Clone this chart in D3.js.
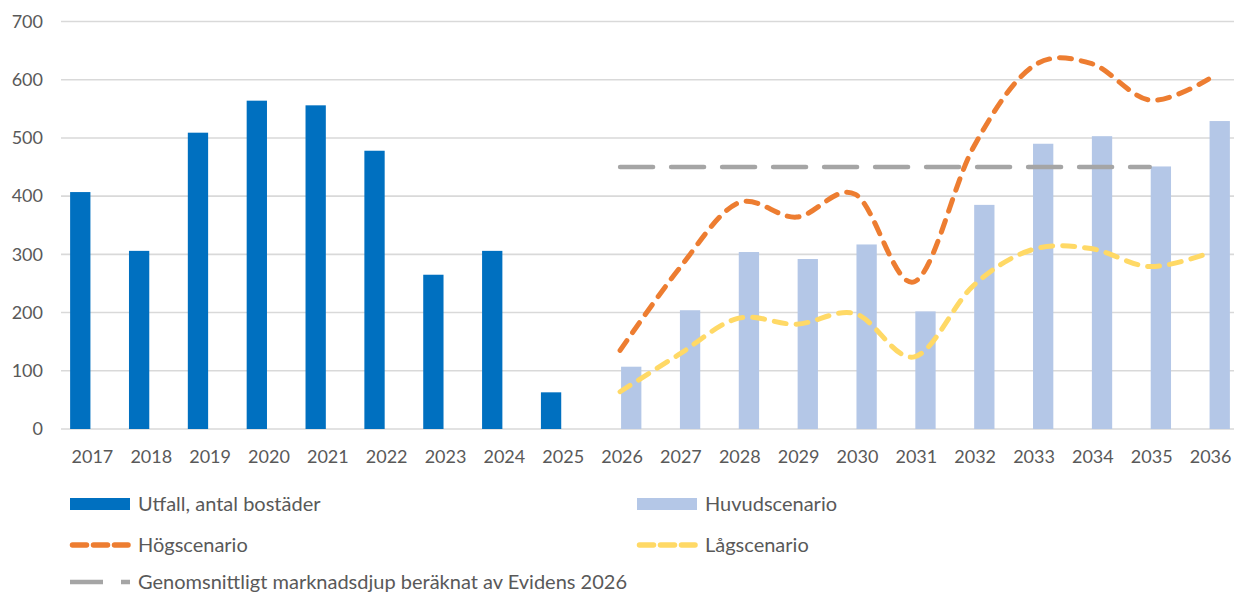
<!DOCTYPE html>
<html>
<head>
<meta charset="utf-8">
<script src="https://cdn.jsdelivr.net/npm/d3@7"></script>
<style>
    html, body { margin: 0; padding: 0; background: #ffffff; }
    #chart { width: 1234px; height: 596px; overflow: hidden; }
</style>
</head>
<body>
<div id="chart"></div>
<script>
// Chart data
const years = ['2017', '2018', '2019', '2020', '2021', '2022', '2023', '2024', '2025', '2026',
               '2027', '2028', '2029', '2030', '2031', '2032', '2033', '2034', '2035', '2036'];
const outcomeYears = ['2017', '2018', '2019', '2020', '2021', '2022', '2023', '2024', '2025'];
const outcomeValues = [407, 306, 509, 564, 556, 478, 265, 306, 63];
const scenarioYears = ['2026', '2027', '2028', '2029', '2030', '2031', '2032', '2033', '2034', '2035', '2036'];
const mainValues = [107, 204, 304, 292, 317, 202, 385, 490, 503, 451, 529];
const highValues = [135, 275, 388, 364, 403, 253, 483, 622, 628, 565, 601];
const lowValues = [64, 128, 190, 180, 198, 124, 246, 308, 310, 279, 302];
const depthYears = ['2026', '2027', '2028', '2029', '2030', '2031', '2032', '2033', '2034', '2035'];
const depthValues = [450, 450, 450, 450, 450, 450, 450, 450, 450, 450];
const yTicks = [0, 100, 200, 300, 400, 500, 600, 700];

const legendItems = [
    { label: 'Utfall, antal bostäder', type: 'bar', color: '#0070C0', col: 0, row: 0 },
    { label: 'Huvudscenario', type: 'bar', color: '#B4C7E7', col: 1, row: 0 },
    { label: 'Högscenario', type: 'dash', color: '#ED7D31', col: 0, row: 1 },
    { label: 'Lågscenario', type: 'dash', color: '#FFD966', col: 1, row: 1 },
    { label: 'Genomsnittligt marknadsdjup beräknat av Evidens 2026', type: 'long', color: '#A5A5A5', col: 0, row: 2 }
];

const width = 1234, height = 596;
const font = 'Lato, "Open Sans", sans-serif';
const textColor = '#595959';

const svg = d3.select('#chart')
    .append('svg')
    .attr('width', width)
    .attr('height', height);

// Scales
const x = d3.scaleBand()
    .domain(years)
    .range([61, 1238]);
const y = d3.scaleLinear()
    .domain([0, 700])
    .range([429, 21.5]);
const barW = x.bandwidth() * 0.345;
const cx = d => x(d) + x.bandwidth() / 2;

// Gridlines
svg.append('g')
    .selectAll('line')
    .data(yTicks)
    .join('line')
    .attr('x1', 61)
    .attr('x2', 1238)
    .attr('y1', d => y(d))
    .attr('y2', d => y(d))
    .attr('stroke', '#D9D9D9')
    .attr('stroke-width', 1.6);

// Y axis labels
svg.append('g')
    .selectAll('text')
    .data(yTicks)
    .join('text')
    .attr('x', 43)
    .attr('y', d => y(d))
    .attr('dy', '0.35em')
    .attr('text-anchor', 'end')
    .attr('font-family', font)
    .attr('font-size', '18px')
    .attr('fill', textColor)
    .text(d => d);

// X axis labels
svg.append('g')
    .selectAll('text')
    .data(years)
    .join('text')
    .attr('x', d => cx(d) + 2)
    .attr('y', 463)
    .attr('text-anchor', 'middle')
    .attr('font-family', font)
    .attr('font-size', '18px')
    .attr('fill', textColor)
    .text(d => d);

// Outcome bars (left in cluster)
svg.append('g')
    .selectAll('rect')
    .data(outcomeYears.map((d, i) => ({ year: d, value: outcomeValues[i] })))
    .join('rect')
    .attr('x', d => cx(d.year) - barW)
    .attr('y', d => y(d.value))
    .attr('width', barW)
    .attr('height', d => y(0) - y(d.value))
    .attr('fill', '#0070C0');

// Main scenario bars (right in cluster)
svg.append('g')
    .selectAll('rect')
    .data(scenarioYears.map((d, i) => ({ year: d, value: mainValues[i] })))
    .join('rect')
    .attr('x', d => cx(d.year) + 1)
    .attr('y', d => y(d.value))
    .attr('width', barW)
    .attr('height', d => y(0) - y(d.value))
    .attr('fill', '#B4C7E7');

// Smoothed lines
const line = d3.line()
    .x(d => cx(d.year))
    .y(d => y(d.value))
    .curve(d3.curveCatmullRom.alpha(0));

svg.append('path')
    .datum(depthYears.map((d, i) => ({ year: d, value: depthValues[i] })))
    .attr('d', d3.line().x(d => cx(d.year)).y(d => y(d.value)))
    .attr('fill', 'none')
    .attr('stroke', '#A5A5A5')
    .attr('stroke-width', 4.5)
    .attr('stroke-dasharray', '33,18')
    .attr('stroke-linecap', 'round');

svg.append('path')
    .datum(scenarioYears.map((d, i) => ({ year: d, value: lowValues[i] })))
    .attr('d', line)
    .attr('fill', 'none')
    .attr('stroke', '#FFD966')
    .attr('stroke-width', 5)
    .attr('stroke-dasharray', '12,10')
    .attr('stroke-linecap', 'round');

svg.append('path')
    .datum(scenarioYears.map((d, i) => ({ year: d, value: highValues[i] })))
    .attr('d', line)
    .attr('fill', 'none')
    .attr('stroke', '#ED7D31')
    .attr('stroke-width', 5)
    .attr('stroke-dasharray', '12,10')
    .attr('stroke-linecap', 'round');

// Legend
const legendRows = [504, 545, 582];
const legend = svg.append('g');
legendItems.forEach(item => {
    const lx = item.col === 0 ? 70 : 637;
    const ly = legendRows[item.row];
    const g = legend.append('g');
    if (item.type === 'bar') {
        g.append('rect')
            .attr('x', lx)
            .attr('y', ly - 6)
            .attr('width', 60)
            .attr('height', 12)
            .attr('fill', item.color);
    } else if (item.type === 'dash') {
        g.append('line')
            .attr('x1', lx + 2.5)
            .attr('x2', lx + 58)
            .attr('y1', ly)
            .attr('y2', ly)
            .attr('stroke', item.color)
            .attr('stroke-width', 5.5)
            .attr('stroke-dasharray', '14,7')
            .attr('stroke-linecap', 'round');
    } else {
        g.append('line')
            .attr('x1', lx)
            .attr('x2', lx + 60)
            .attr('y1', ly)
            .attr('y2', ly)
            .attr('stroke', item.color)
            .attr('stroke-width', 4.5)
            .attr('stroke-dasharray', '33,18');
    }
    g.append('text')
        .attr('x', lx + 68)
        .attr('y', ly)
        .attr('dy', '0.35em')
        .attr('font-family', font)
        .attr('font-size', '20px')
        .attr('fill', textColor)
        .text(item.label);
});
</script>
</body>
</html>
